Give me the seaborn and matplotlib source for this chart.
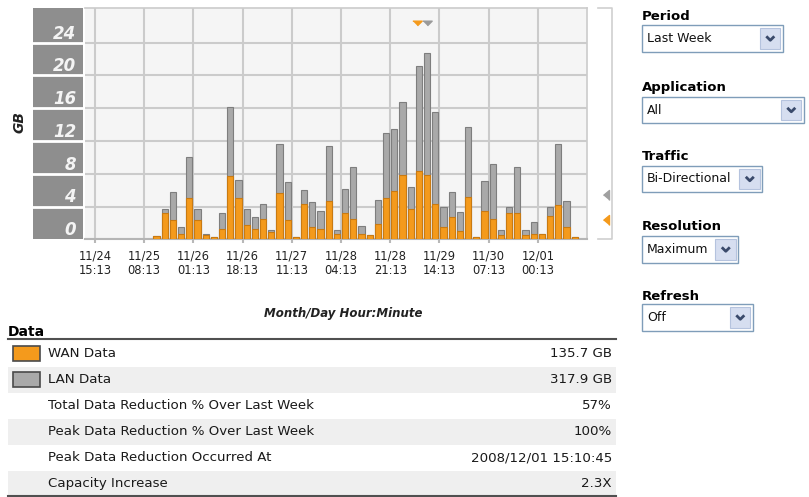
import numpy as np
import pandas as pd
import matplotlib
matplotlib.use("Agg")
import matplotlib.pyplot as plt
from matplotlib.patches import Rectangle
import seaborn as sns

# Traffic per time slot (GB), bars fill slots 7..58 of 60
wan = [0.4, 3.2, 2.35, 0.65, 5.0, 2.35, 0.5, 0.3, 1.3, 7.7,
       5.0, 1.7, 1.2, 2.5, 0.93, 5.7, 2.35, 0.3, 4.3, 1.5,
       1.3, 4.67, 0.6, 3.17, 2.47, 0.65, 0.49, 1.83, 5.0, 5.85,
       7.84, 3.7, 8.33, 7.84, 4.3, 1.46, 2.68, 1.05, 5.2, 0.3,
       3.5, 2.47, 0.49, 3.17, 3.17, 0.49, 0.65, 0.7, 2.84, 4.15,
       1.46, 0.3]
lan = [0.4, 3.7, 5.8, 1.46, 10.0, 3.7, 0.6, 0.3, 3.2, 16.2,
       7.3, 3.7, 2.7, 4.3, 1.1, 11.65, 7.0, 0.3, 6.0, 4.5,
       3.5, 11.4, 1.13, 6.15, 8.85, 1.62, 0.49, 4.8, 13.0, 13.5,
       16.8, 6.34, 21.1, 22.8, 15.6, 3.9, 5.8, 3.33, 13.66, 0.3,
       7.1, 9.2, 1.13, 3.9, 8.85, 1.13, 2.15, 0.7, 3.98, 11.6,
       4.67, 0.3]
first_slot = 7
n_slots = 60
slots_per_label = 6

x_labels = ["11/24\n15:13", "11/25\n08:13", "11/26\n01:13", "11/26\n18:13",
            "11/27\n11:13", "11/28\n04:13", "11/28\n21:13", "11/29\n14:13",
            "11/30\n07:13", "12/01\n00:13"]
y_ticks = [0, 4, 8, 12, 16, 20, 24]

table_labels = ["WAN Data", "LAN Data", "Total Data Reduction % Over Last Week",
                "Peak Data Reduction % Over Last Week",
                "Peak Data Reduction Occurred At", "Capacity Increase"]
table_values = ["135.7 GB", "317.9 GB", "57%", "100%",
                "2008/12/01 15:10:45", "2.3X"]

dropdown_names = ["Period", "Application", "Traffic", "Resolution", "Refresh"]
dropdown_values = ["Last Week", "All", "Bi-Directional", "Maximum", "Off"]

ORANGE, ORANGE_EDGE = "#F49A1C", "#C97A12"
GRAY, GRAY_EDGE = "#A9A9A9", "#7E7E7E"
GRID = "#CBCBCB"

W, H = 809, 497
fig = plt.figure(figsize=(W / 100, H / 100), dpi=100)
fig.patch.set_facecolor("white")


def px_rect(x0, y0, x1, y1):
    return [x0 / W, 1 - y1 / H, (x1 - x0) / W, (y1 - y0) / H]


def overlay():
    # full-figure axes in pixel coords, y pointing down
    o = fig.add_axes([0, 0, 1, 1])
    o.set_xlim(0, W)
    o.set_ylim(H, 0)
    o.axis("off")
    return o


bg = overlay()

# main chart
ax = fig.add_axes(px_rect(85, 8.3, 587, 239.3))
df = pd.DataFrame({"slot": np.arange(first_slot, first_slot + len(wan)),
                   "wan": wan, "lan": lan})
sns.barplot(data=df, x="slot", y="lan", native_scale=True, color=GRAY,
            edgecolor=GRAY_EDGE, linewidth=0.8, width=0.78, saturation=1,
            errorbar=None, ax=ax, zorder=2)
sns.barplot(data=df, x="slot", y="wan", native_scale=True, color=ORANGE,
            edgecolor=ORANGE_EDGE, linewidth=0.8, width=0.78, saturation=1,
            errorbar=None, ax=ax, zorder=3)
ax.set_facecolor("#F5F5F5")
ax.set_xlim(-0.5 - 10 / 8.2, n_slots - 0.5)
ax.set_ylim(0, 28.2)
ax.set_xticks(np.arange(len(x_labels)) * slots_per_label - 0.5)
ax.set_xticklabels(x_labels, fontsize=8.3, color="#222222")
ax.set_yticks(y_ticks)
ax.tick_params(axis="y", left=False, labelleft=False)
ax.tick_params(axis="x", length=3, width=1.5, color="#B8B8B8", pad=4)
ax.grid(True, color=GRID, lw=1.5, zorder=0)
ax.set_axisbelow(True)
ax.set_xlabel("")
ax.set_ylabel("")
ax.spines["left"].set_visible(False)
for s in ["top", "right"]:
    ax.spines[s].set_color(GRID)
    ax.spines[s].set_linewidth(1.2)
ax.spines["bottom"].set_color("#B5B5B5")
ax.spines["bottom"].set_linewidth(1.5)

# gray label column on the left
axg = fig.add_axes(px_rect(33, 8.3, 83, 239.3))
axg.set_facecolor("#8E8E8E")
axg.set_ylim(ax.get_ylim())
axg.set_xlim(0, 1)
axg.set_xticks([])
axg.set_yticks([])
for s in axg.spines.values():
    s.set_visible(False)
for v in y_ticks[1:]:
    axg.axhline(v, color="white", lw=2)
for v in y_ticks:
    axg.annotate(str(v), xy=(1, v), xycoords=("axes fraction", "data"),
                 xytext=(-5, 3), textcoords="offset points", ha="right",
                 va="baseline", color="#F4F4F4", fontsize=12,
                 fontweight="bold", fontstyle="italic")

fg = overlay()

fg.text(20, 122, "GB", rotation=90, ha="center", va="center", fontsize=10,
        fontweight="bold", fontstyle="italic", color="#222222")

# little indicator triangles
down_tri = [(-1, 0.5), (1, 0.5), (0, -0.5)]
left_tri = [(-0.6, 0), (0.6, 1), (0.6, -1)]
fg.plot([417.5], [23], marker=down_tri, ms=6.7, color=ORANGE, ls="none")
fg.plot([427], [23], marker=down_tri, ms=6.7, color="#9A9A9A", ls="none")
fg.plot([606], [195], marker=left_tri, ms=7.2, color="#A0A0A0", ls="none")
fg.plot([606], [220], marker=left_tri, ms=7.2, color=ORANGE, ls="none")
fg.plot([598, 612, 612, 598], [8.3, 8.3, 239.3, 239.3], color="#CFCFCF", lw=1.2)

fg.text(343, 313, "Month/Day Hour:Minute", ha="center", va="center",
        fontsize=8.5, fontweight="bold", fontstyle="italic", color="#222222")

# data table
fg.text(8, 336, "Data", fontsize=10, fontweight="bold", va="baseline")
row_top, row_h = 341, 25.9
for i, (lab, val) in enumerate(zip(table_labels, table_values)):
    y0 = row_top + i * row_h
    yc = y0 + row_h / 2
    if i % 2 == 1:
        bg.add_patch(Rectangle((8, y0), 608, min(row_h, 495 - y0),
                               fc="#EFEFEF", ec="none"))
    if i == 0:
        fg.add_patch(Rectangle((13, yc - 7.5), 27, 15, fc=ORANGE, ec="#4A4A4A", lw=1.2))
    elif i == 1:
        fg.add_patch(Rectangle((13, yc - 7.5), 27, 15, fc=GRAY, ec="#4A4A4A", lw=1.2))
    fg.text(48, yc, lab, va="center", fontsize=9.6, color="#1A1A1A")
    fg.text(612, yc, val, va="center", ha="right", fontsize=9.6, color="#1A1A1A")
fg.plot([8, 616], [338.5, 338.5], color="#505050", lw=1.5)
fg.plot([8, 616], [495.5, 495.5], color="#505050", lw=1.5)

# dropdown controls on the right
label_y = [17, 87, 157, 227, 296]
box_top = [25, 96.5, 165.5, 236, 304]
box_right = [783, 804, 762.5, 738.5, 753]
for name, value, ly, top, right in zip(dropdown_names, dropdown_values,
                                       label_y, box_top, box_right):
    fg.text(641.7, ly, name, va="center", fontsize=9.5, fontweight="bold")
    fg.add_patch(Rectangle((641.7, top), right - 641.7, 26.5, fc="white",
                           ec="#7F9DB9", lw=1.0))
    fg.add_patch(Rectangle((right - 23, top + 3), 20.5, 20.5, fc="#D6DEF0",
                           ec="#B5C3DE", lw=0.8))
    cx, cy = right - 12.7, top + 13.3
    fg.plot([cx - 4, cx, cx + 4], [cy - 2, cy + 2, cy - 2], color="#3A4A6B",
            lw=2.0, solid_capstyle="butt")
    fg.text(647, top + 13.5, value, va="center", fontsize=9, color="#111111")

fig.savefig("out.png", dpi=100)
